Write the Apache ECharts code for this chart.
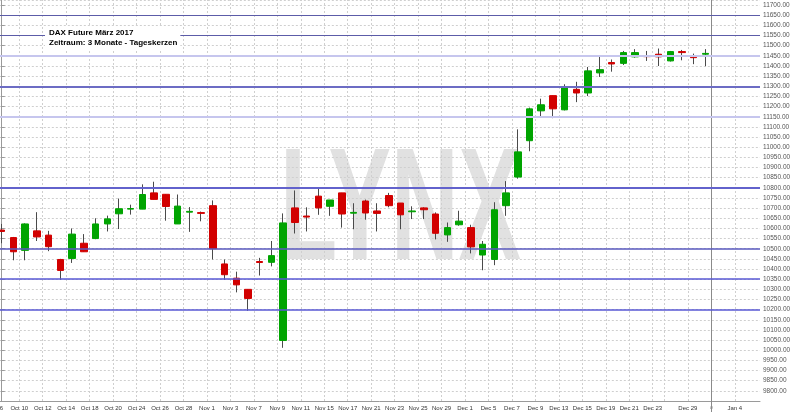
<!DOCTYPE html>
<html><head><meta charset="utf-8">
<script src="https://cdn.jsdelivr.net/npm/echarts@6/dist/echarts.min.js"></script>
<style>html,body{margin:0;padding:0;background:#fff}#c{width:800px;height:412px}</style>
</head><body><div id="c"></div>
<script>
// ---- data ----
const dates = ['Oct 6','Oct 7','Oct 10','Oct 11','Oct 12','Oct 13','Oct 14','Oct 17','Oct 18','Oct 19','Oct 20','Oct 21','Oct 24','Oct 25','Oct 26','Oct 27','Oct 28','Oct 31',
 'Nov 1','Nov 2','Nov 3','Nov 4','Nov 7','Nov 8','Nov 9','Nov 10','Nov 11','Nov 14','Nov 15','Nov 16','Nov 17','Nov 18','Nov 21','Nov 22','Nov 23','Nov 24','Nov 25','Nov 28','Nov 29','Nov 30',
 'Dec 1','Dec 2','Dec 5','Dec 6','Dec 7','Dec 8','Dec 9','Dec 12','Dec 13','Dec 14','Dec 15','Dec 16','Dec 19','Dec 20','Dec 21','Dec 22','Dec 23','Dec 27','Dec 28','Dec 29','Dec 30'];
const futureDates = ['Jan 2','Jan 3','Jan 4'];
const open = [10592,10555,10492,10588,10567,10447,10452,10527,10550,10622,
 10672,10695,10695,10775,10768,10622,10680,10678,10712,10425,
 10355,10300,10437,10433,10048,10701,10661,10759,10709,10775,
 10675,10735,10686,10762,10725,10682,10701,10671,10568,10618,
 10604,10469,10447,10712,10853,11032,11179,11254,11184,11285,
 11267,11366,11417,11413,11445,11450,11458,11425,11471,11450,11458];
const close = [10585,10485,10622,10558,10510,10393,10572,10485,10622,10647,
 10697,10698,10767,10743,10708,10710,10684,10674,10500,10372,
 10322,10255,10432,10466,10627,10629,10656,10701,10740,10671,
 10679,10676,10674,10712,10667,10686,10692,10576,10604,10636,
 10509,10522,10692,10775,10977,11189,11209,11189,11295,11267,
 11376,11382,11410,11466,11466,11446,11445,11471,11466,11441,11462];
const low = [10527,10443,10443,10538,10488,10347,10430,10485,10547,10585,
 10597,10668,10695,10743,10638,10622,10583,10635,10447,10347,
 10285,10194,10368,10413,10012,10575,10585,10667,10662,10604,
 10596,10643,10585,10704,10596,10646,10646,10546,10534,10613,
 10477,10394,10419,10662,10845,10980,11147,11143,11181,11222,
 11252,11346,11372,11405,11441,11425,11400,11422,11428,11409,11399];
const high = [10622,10558,10625,10680,10588,10450,10600,10572,10650,10663,
 10747,10717,10817,10830,10768,10767,10705,10683,10738,10447,
 10387,10300,10455,10538,10674,10787,10704,10797,10740,10775,
 10724,10742,10724,10775,10725,10709,10704,10679,10629,10687,
 10618,10538,10729,10833,11088,11195,11239,11254,11310,11322,
 11395,11448,11432,11474,11483,11474,11486,11474,11479,11461,11483];
const tickLabels = ['Oct 6','Oct 10','Oct 12','Oct 14','Oct 18','Oct 20','Oct 24','Oct 26','Oct 28','Nov 1','Nov 3','Nov 7','Nov 9','Nov 11','Nov 15','Nov 17','Nov 21','Nov 23','Nov 25','Nov 29','Dec 1','Dec 5','Dec 7','Dec 9','Dec 13','Dec 15','Dec 19','Dec 21','Dec 23','Dec 29','Jan 4'];
const extraGridDates = ['Dec 27'];
const sessionBreak = 'Jan 2';
const levels = [11650, 11550, 11450, 11300, 11150, 10800, 10500, 10350, 10200];
const yMin = 9750, yMax = 11725, yStep = 50;
const titleLines = ['DAX Future März 2017', 'Zeitraum: 3 Monate - Tageskerzen'];
const axisName = 'Price';
const watermark = 'LYNX';

// ---- styles ----
const levelStyles = {
  11650: {color: '#5c5ca8', width: 1.2},
  11550: {color: '#5c5ca8', width: 1.2},
  11450: {color: '#c6c6ee', width: 2},
  11300: {color: '#6c6cc4', width: 2},
  11150: {color: '#c6c6ee', width: 2},
  10800: {color: '#6262cc', width: 2},
  10500: {color: '#5a5abf', width: 1.5},
  10350: {color: '#5858d4', width: 1.5},
  10200: {color: '#5858d4', width: 1.5}
};
const UP = '#00a400', DOWN = '#d20000', WICK = '#4a4a4a';

const allDates = dates.concat(futureDates);
const boundary = d => allDates.indexOf(d) - 0.5;
const labelAt = {};
tickLabels.forEach(d => { labelAt[boundary(d)] = d; });
labelAt[boundary(sessionBreak)] = '{s|o}';

const wickData = dates.map((d, i) => [i, open[i], close[i], low[i], high[i]]);
const bodyData = dates.map((d, i) => [i, open[i], close[i], Math.min(open[i], close[i]), Math.max(open[i], close[i])]);

const vLines = tickLabels.concat(extraGridDates).map(d => ({xAxis: boundary(d)}));
const hLines = levels.map(v => ({yAxis: v, lineStyle: {type: 'solid', color: levelStyles[v].color, width: levelStyles[v].width}}));

const xMin = -0.5, xMax = 64.65;
const chart = echarts.init(document.getElementById('c'), null, {renderer: 'canvas'});
chart.setOption({
  animation: false,
  backgroundColor: '#ffffff',
  title: {
    text: titleLines.join('\n'), left: 45, top: 27, padding: [1, 3, 1, 4], backgroundColor: '#ffffff',
    textStyle: {fontSize: 8, fontWeight: 'bold', fontFamily: 'Liberation Sans', lineHeight: 10, color: '#000'}
  },
  graphic: [{
    type: 'text', x: 280, y: 215, scaleX: 0.585, z: -10, silent: true,
    style: {text: watermark, font: 'bold 160px "Liberation Sans"', fill: '#e1e1e1', verticalAlign: 'middle', align: 'left'}
  }],
  grid: {left: -4.17, right: 40, top: 0, bottom: 11, containLabel: false, outerBoundsMode: 'none'},
  xAxis: [{
    type: 'value', min: xMin, max: xMax, interval: 0.5, position: 'bottom',
    axisLine: {show: true, lineStyle: {color: '#9a9a9a', width: 1}},
    axisTick: {show: false}, splitLine: {show: false},
    axisLabel: {
      show: true, fontSize: 6, color: '#333', fontFamily: 'Liberation Sans', margin: 4,
      formatter: v => labelAt[v] || '',
      rich: {s: {fontSize: 5, color: '#888'}}
    }
  }, {
    type: 'value', min: xMin, max: xMax, interval: 61, position: 'bottom',
    axisLine: {show: false}, axisLabel: {show: false}, splitLine: {show: false},
    axisTick: {show: true, length: 11, customValues: [boundary(sessionBreak)], lineStyle: {color: '#8a8a8a'}}
  }],
  yAxis: {
    type: 'value', position: 'right', min: yMin, max: yMax, interval: yStep,
    name: axisName, nameLocation: 'middle', nameRotate: -90, nameGap: 31,
    nameTextStyle: {fontSize: 7, color: '#444', fontFamily: 'Liberation Sans'},
    axisLine: {show: true, lineStyle: {color: '#9a9a9a'}},
    axisTick: {show: true, length: 3, lineStyle: {color: '#9a9a9a'}},
    axisLabel: {fontSize: 6.5, color: '#555', fontFamily: 'Liberation Sans', margin: 3, showMinLabel: false, showMaxLabel: false,
      formatter: v => v.toFixed(2)},
    splitLine: {show: true, lineStyle: {type: [2, 2], color: '#cfcfcf', width: 1}}
  },
  series: [{
    type: 'line', data: [], z: 1, silent: true,
    markLine: {
      silent: true, symbol: ['none', 'none'], label: {show: false}, animation: false,
      lineStyle: {type: [2, 2], color: '#cfcfcf', width: 1},
      data: vLines.concat([{xAxis: boundary(sessionBreak), lineStyle: {type: 'solid', color: '#8a8a8a', width: 1}}]).concat(hLines)
    }
  }, {
    type: 'candlestick', name: 'wick', data: wickData, barWidth: 0.01, z: 2, silent: true,
    encode: {x: 0, y: [1, 2, 3, 4]},
    itemStyle: {color: WICK, color0: WICK, borderColor: WICK, borderColor0: WICK, borderWidth: 1}
  }, {
    type: 'candlestick', name: 'body', data: bodyData, barWidth: 7, z: 3, silent: true,
    encode: {x: 0, y: [1, 2, 3, 4]},
    itemStyle: {color: UP, color0: DOWN, borderColor: UP, borderColor0: DOWN, borderWidth: 1}
  }]
});
</script></body></html>
